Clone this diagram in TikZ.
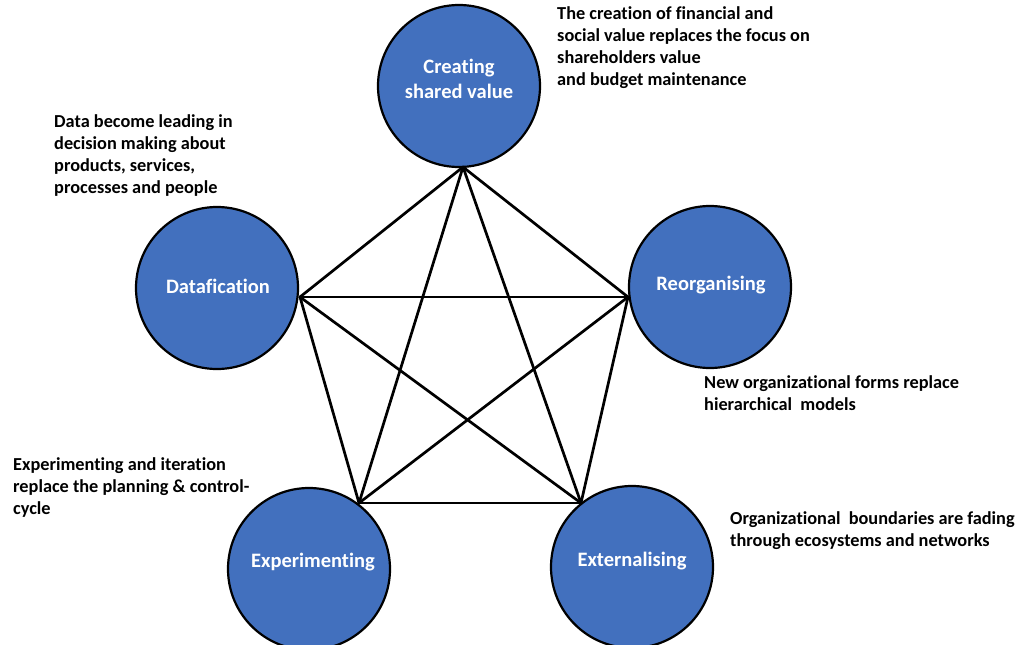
\documentclass[tikz,border=0pt]{standalone}
\usepackage{fontspec}
\setmainfont[Ligatures=NoCommon]{Carlito}
\definecolor{circblue}{RGB}{66,112,190}
\begin{document}
\begin{tikzpicture}[x=1pt,y=-1pt,
  bubble/.style={circle,draw=black,line width=2.2pt,fill=circblue,minimum size=162pt,inner sep=0pt},
  bubbletext/.style={text=white,align=center,inner sep=0pt,font=\fontsize{20.5}{25}\selectfont\bfseries},
  caption/.style={anchor=north west,inner sep=0pt,align=left,font=\fontsize{18.3}{22}\selectfont\bfseries},
  link/.style={line width=2.7pt,line cap=round}]
\useasboundingbox (0,0) rectangle (1034,645);
% circles
\node[bubble] (C) at (459,86) {};
\node[bubble] (D) at (217,288) {};
\node[bubble] (R) at (710,287) {};
\node[bubble] (X) at (309,569) {};
\node[bubble] (E) at (632,567) {};
\node[bubbletext] (Ct) at (459,79) {Creating\\shared value};
\node[bubbletext] (Dt) at (218,286) {Datafication};
\node[bubbletext] (Rt) at (711,285) {Reorganising};
\node[bubbletext] (Xt) at (313,562) {Experimenting};
\node[bubbletext] (Et) at (632,561) {Externalising};
% vertices
\coordinate (vC) at (463,167);
\coordinate (vD) at (300,297);
\coordinate (vR) at (628,297);
\coordinate (vX) at (359,503);
\coordinate (vE) at (581,503);
% connectors
\draw[link] (vC) -- (vD);
\draw[link] (vC) -- (vR);
\draw[link] (vC) -- (vX);
\draw[link] (vC) -- (vE);
\draw[link] (vD) -- (vR);
\draw[link] (vD) -- (vX);
\draw[link] (vD) -- (vE);
\draw[link] (vR) -- (vX);
\draw[link] (vR) -- (vE);
\draw[link] (vX) -- (vE);
% captions
\node[caption] (tC) at (557,6) {The creation of financial and\\social value replaces the focus on\\shareholders value\\and budget maintenance};
\node[caption] (tD) at (54,114) {Data become leading in\\decision making about\\products, services,\\processes and people};
\node[caption] (tR) at (704,375) {New organizational forms replace\\hierarchical\ \ models};
\node[caption] (tX) at (13,457) {Experimenting and iteration\\replace the planning \& control-\\cycle};
\node[caption] (tE) at (730,511) {Organizational\ \ boundaries are fading\\through ecosystems and networks};
\end{tikzpicture}
\end{document}
